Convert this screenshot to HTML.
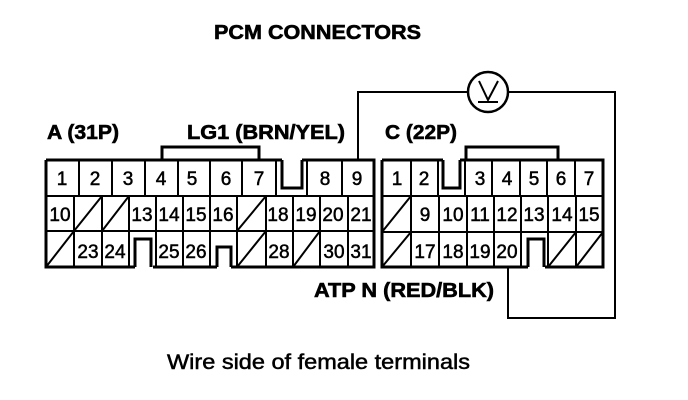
<!DOCTYPE html>
<html><head><meta charset="utf-8"><style>
html,body{margin:0;padding:0;background:#fff}
svg{display:block}
text{font-family:"Liberation Sans",sans-serif;fill:#000}
.b{font-weight:bold;stroke:#000;stroke-width:.6}
.n{font-size:19px;text-anchor:middle;stroke:#000;stroke-width:.5}
.l{fill:none;stroke:#000;stroke-width:2}
.t{fill:none;stroke:#000;stroke-width:3}
</style></head><body>
<svg width="688" height="400" viewBox="0 0 688 400" xmlns="http://www.w3.org/2000/svg">
<rect width="688" height="400" fill="#fff"/>
<text class="b" x="214" y="39" font-size="20" textLength="207" lengthAdjust="spacingAndGlyphs">PCM CONNECTORS</text>
<text class="b" x="47" y="139" font-size="20" textLength="72" lengthAdjust="spacingAndGlyphs">A (31P)</text>
<text class="b" x="187" y="139" font-size="20" textLength="158" lengthAdjust="spacingAndGlyphs">LG1 (BRN/YEL)</text>
<text class="b" x="385" y="139" font-size="20" textLength="72" lengthAdjust="spacingAndGlyphs">C (22P)</text>
<text class="b" x="314" y="297" font-size="20" textLength="180" lengthAdjust="spacingAndGlyphs">ATP N (RED/BLK)</text>
<text x="167" y="369" font-size="21" stroke="#000" stroke-width=".5" textLength="303" lengthAdjust="spacingAndGlyphs">Wire side of female terminals</text>

<!-- left connector -->
<path class="t" d="M46 160H282M302 160H374V267H231M217 267H153M135 267H46V160"/>
<path class="l" d="M46 196H374M46 231H374"/>
<path class="l" d="M79 160V196M112 160V196M145 160V196M178 160V196M210 160V196M242 160V196M276 160V196M307 160V196M342 160V196"/>
<path class="l" d="M74 196V267M102 196V267M129 196V267M156 196V267M183 196V267M210 196V267M237 196V267M266 196V267M293 196V267M320 196V267M348 196V267"/>
<path class="t" d="M282 160V188H302V160"/>
<path class="t" d="M135 267V239H151V267"/>
<path class="t" d="M217 267V247H231V267"/>
<path class="l" d="M74 231L102 196M102 231L129 196M237 231L266 196M46 267L74 231M237 267L266 231M293 267L320 231"/>

<!-- right connector -->
<path class="t" d="M382 160H443M460 160H603V267H545M528 267H382V160"/>
<path class="l" d="M382 196H603M382 232H603"/>
<path class="l" d="M411 160V196M438 160V196M465 160V196M492 160V196M520 160V196M547 160V196M575 160V196"/>
<path class="l" d="M411 196V267M439 196V267M467 196V267M494 196V267M521 196V267M548 196V267M576 196V267"/>
<path class="t" d="M443 160V188H460V160"/>
<path class="t" d="M528 267V239H544V267"/>
<path class="l" d="M382 232L411 196M382 267L411 232M548 267L576 232M576 267L603 232"/>

<!-- wires -->
<path class="t" d="M162 160V147H259V160"/>
<path class="t" d="M466 160V147H558V160"/>
<path class="l" d="M358 160V92H468M508 92H615V318H508V267"/>
<circle cx="488" cy="92" r="20" fill="#fff" stroke="#000" stroke-width="2.5"/>
<path class="l" d="M479 81L488 100L498 81M478 102H498"/>

<g class="n">
<text x="62" y="185">1</text><text x="95" y="185">2</text><text x="128" y="185">3</text><text x="161" y="185">4</text><text x="192" y="185">5</text><text x="226" y="185">6</text><text x="259" y="185">7</text><text x="325" y="185">8</text><text x="357" y="185">9</text>
<text x="60" y="221">10</text><text x="142" y="221">13</text><text x="169" y="221">14</text><text x="196" y="221">15</text><text x="223" y="221">16</text><text x="278" y="221">18</text><text x="306" y="221">19</text><text x="333" y="221">20</text><text x="361" y="221">21</text>
<text x="88" y="258">23</text><text x="115" y="258">24</text><text x="169" y="258">25</text><text x="196" y="258">26</text><text x="279" y="258">28</text><text x="334" y="258">30</text><text x="361" y="258">31</text>
<text x="397" y="185">1</text><text x="424" y="185">2</text><text x="480" y="185">3</text><text x="507" y="185">4</text><text x="534" y="185">5</text><text x="561" y="185">6</text><text x="589" y="185">7</text>
<text x="425" y="221">9</text><text x="453" y="221">10</text><text x="480" y="221">11</text><text x="507" y="221">12</text><text x="534" y="221">13</text><text x="562" y="221">14</text><text x="589" y="221">15</text>
<text x="425" y="258">17</text><text x="453" y="258">18</text><text x="480" y="258">19</text><text x="507" y="258">20</text>
</g>
</svg>
</body></html>
